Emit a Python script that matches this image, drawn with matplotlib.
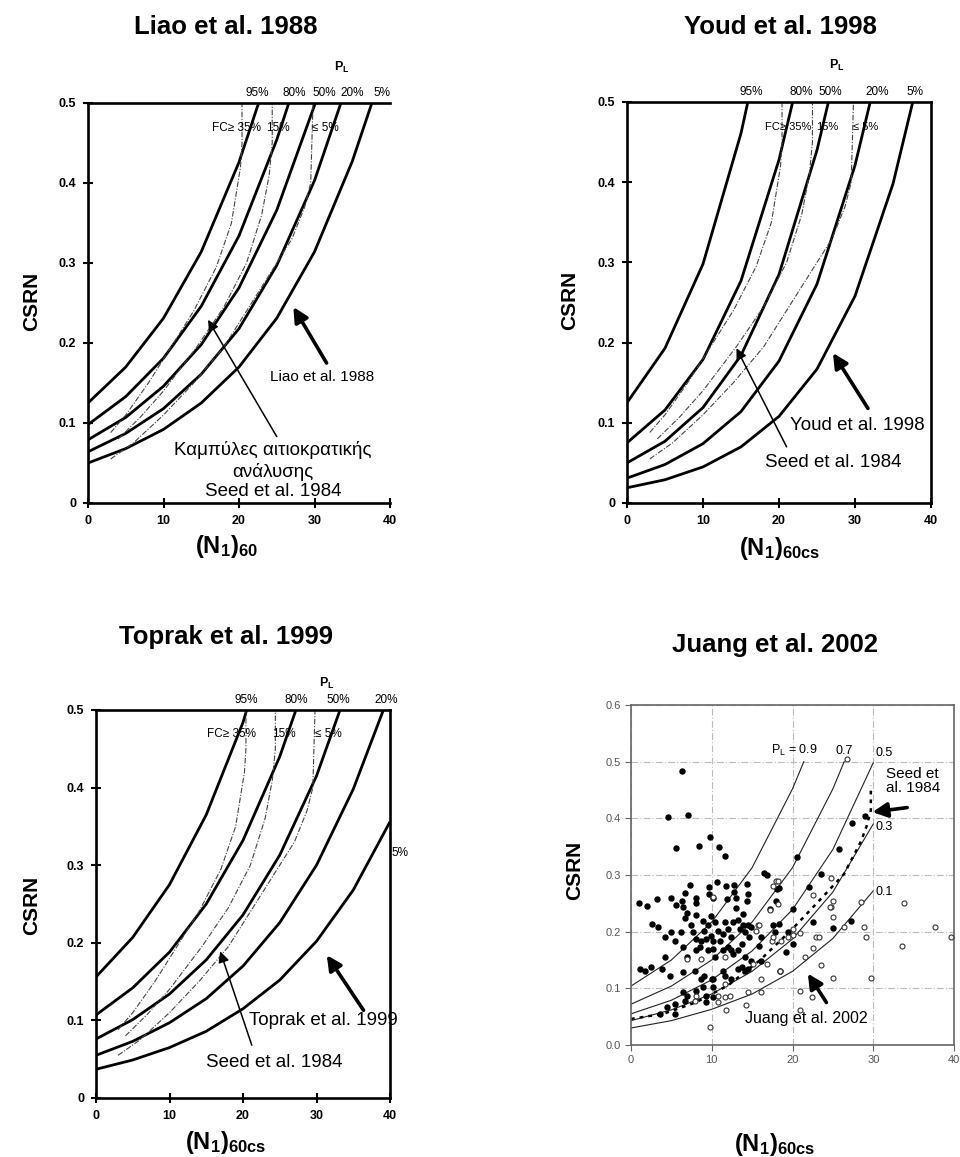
import matplotlib
matplotlib.use('Agg')
import matplotlib.pyplot as plt

plt.rcParams['font.family'] = ['Liberation Sans', 'DejaVu Sans']
plt.rcParams['mathtext.fontset'] = 'custom'
plt.rcParams['mathtext.bf'] = 'Liberation Sans:bold'
plt.rcParams['mathtext.rm'] = 'Liberation Sans'
plt.rcParams['mathtext.it'] = 'Liberation Sans:italic'

# ---- probability curves, (N1)60 vs CSRN, one list per P_L level ----
pl_labels = ['95%', '80%', '50%', '20%', '5%']

liao_n = [[0, 5, 10, 15, 20, 22.6],
          [0, 5, 10, 15, 20, 25, 26.6],
          [0, 5, 10, 15, 20, 25, 30, 30.1],
          [0, 5, 10, 15, 20, 25, 30, 33.5],
          [0, 5, 10, 15, 20, 25, 30, 35, 37.6]]
liao_csr = [[0.125, 0.170, 0.231, 0.314, 0.426, 0.500],
            [0.098, 0.133, 0.181, 0.246, 0.334, 0.454, 0.500],
            [0.079, 0.107, 0.146, 0.198, 0.269, 0.366, 0.497, 0.500],
            [0.064, 0.087, 0.118, 0.161, 0.218, 0.297, 0.403, 0.500],
            [0.050, 0.068, 0.092, 0.125, 0.170, 0.231, 0.314, 0.427, 0.500]]

youd_n = [[0, 5, 10, 15, 15.9],
          [0, 5, 10, 15, 20, 21.8],
          [0, 5, 10, 15, 20, 25, 26.5],
          [0, 5, 10, 15, 20, 25, 30, 32.0],
          [0, 5, 10, 15, 20, 25, 30, 35, 37.6]]
youd_csr = [[0.125, 0.193, 0.298, 0.461, 0.500],
            [0.075, 0.116, 0.179, 0.277, 0.428, 0.500],
            [0.050, 0.077, 0.119, 0.184, 0.285, 0.440, 0.500],
            [0.031, 0.048, 0.074, 0.114, 0.177, 0.273, 0.421, 0.500],
            [0.019, 0.029, 0.045, 0.070, 0.108, 0.167, 0.258, 0.398, 0.500]]

toprak_n = [[0, 5, 10, 15, 20, 20.5],
            [0, 5, 10, 15, 20, 25, 27.2],
            [0, 5, 10, 15, 20, 25, 30, 33.2],
            [0, 5, 10, 15, 20, 25, 30, 35, 39.1],
            [0, 5, 10, 15, 20, 25, 30, 35, 40]]
toprak_csr = [[0.156, 0.207, 0.275, 0.365, 0.484, 0.500],
              [0.107, 0.142, 0.188, 0.250, 0.332, 0.440, 0.500],
              [0.076, 0.101, 0.134, 0.178, 0.236, 0.313, 0.415, 0.500],
              [0.055, 0.073, 0.097, 0.128, 0.170, 0.226, 0.300, 0.398, 0.500],
              [0.037, 0.049, 0.065, 0.086, 0.115, 0.152, 0.202, 0.268, 0.356]]

# deterministic boundaries of Seed et al. 1984 (fines content)
seed_fc35_n = [3.0, 5.0, 8.0, 11.0, 14.0, 17.0, 19.0, 20.2, 20.4, 20.4]
seed_fc35_csr = [0.088, 0.110, 0.150, 0.195, 0.240, 0.295, 0.350, 0.420, 0.450, 0.500]
seed_fc15_n = [4.0, 7.0, 10.0, 14.4, 18.0, 21.0, 23.0, 24.0, 24.4, 24.4]
seed_fc15_csr = [0.080, 0.108, 0.140, 0.195, 0.245, 0.300, 0.360, 0.410, 0.450, 0.500]
seed_fc5_n = [3.0, 6.0, 10.0, 14.0, 18.0, 21.0, 24.0, 27.0, 28.7, 29.5, 29.8]
seed_fc5_csr = [0.055, 0.075, 0.110, 0.150, 0.195, 0.240, 0.285, 0.330, 0.370, 0.400, 0.500]

# ---- Juang et al. 2002 ----
juang_pl = ['0.9', '0.7', '0.5', '0.3', '0.1']
juang_n = [[0, 5, 10, 15, 20, 21.4],
           [0, 5, 10, 15, 20, 25, 26.4],
           [0, 5, 10, 15, 20, 25, 30],
           [0, 5, 10, 15, 20, 25, 30],
           [0, 5, 10, 15, 20, 25, 30]]
juang_csr = [[0.104, 0.150, 0.217, 0.313, 0.452, 0.500],
             [0.072, 0.104, 0.150, 0.217, 0.313, 0.452, 0.500],
             [0.055, 0.079, 0.115, 0.166, 0.239, 0.345, 0.498],
             [0.043, 0.062, 0.090, 0.130, 0.187, 0.270, 0.390],
             [0.030, 0.043, 0.063, 0.090, 0.130, 0.188, 0.272]]
seed_j_n = [0, 4, 8, 12, 16, 20, 23, 26.4, 28.5, 29.2, 29.7, 29.7]
seed_j_csr = [0.046, 0.055, 0.075, 0.105, 0.150, 0.205, 0.250, 0.302, 0.360, 0.387, 0.414, 0.458]

# case histories: liquefied (filled) and non-liquefied (open)
liq_n = [6.3, 4.6, 7.1, 9.8, 8.4, 5.6, 10.9, 11.6, 16.5, 16.8, 29.0, 27.4, 25.7, 20.5, 23.5, 22.0,
         1.0, 2.0, 3.2, 4.9, 5.6, 6.3, 6.5, 6.7, 7.3, 6.9, 8.0, 8.0, 8.0, 9.7, 10.7, 10.2, 9.9,
         11.8, 12.8, 12.8, 13.0, 13.0, 14.4, 14.4, 13.9, 17.2, 17.9, 18.1, 20.1, 9.7, 11.9, 14.5,
         2.6, 3.3, 4.2, 5.0, 6.2, 5.4, 6.7, 7.4, 7.7, 8.1, 8.7, 8.9, 9.1, 9.3, 9.5, 9.9, 10.1,
         10.4, 10.8, 11.0, 11.4, 11.6, 12.0, 12.4, 12.6, 13.2, 13.5, 13.9, 14.1, 14.5, 14.9, 14.6,
         16.1, 15.9, 17.6, 18.3, 17.8, 19.4, 18.3,
         6.5, 6.9, 8.1, 8.5, 9.5, 10.2, 10.4, 11.4, 12.0, 12.4, 12.6, 13.2, 13.7, 14.1, 14.9, 4.2,
         1.1, 1.7, 2.5, 3.8, 4.8, 6.5, 7.9, 9.1, 10.2, 11.4, 11.6, 13.2, 13.7, 14.1, 14.5, 16.1, 18.4,
         8.7, 10.0, 10.2, 12.4, 6.5, 6.9, 8.1, 8.9, 9.3, 10.2, 6.7, 5.4, 9.3, 5.4, 4.4, 3.6,
         22.6, 25.0, 27.2, 20.0, 19.2]
liq_csr = [0.484, 0.403, 0.406, 0.367, 0.352, 0.347, 0.349, 0.334, 0.304, 0.300, 0.404, 0.391, 0.346, 0.331, 0.302, 0.278,
           0.251, 0.245, 0.258, 0.259, 0.247, 0.254, 0.243, 0.268, 0.283, 0.233, 0.259, 0.250, 0.230, 0.279, 0.287, 0.260, 0.227,
           0.281, 0.283, 0.270, 0.259, 0.242, 0.285, 0.254, 0.232, 0.240, 0.255, 0.276, 0.240, 0.266, 0.257, 0.267,
           0.214, 0.208, 0.190, 0.199, 0.199, 0.184, 0.225, 0.211, 0.199, 0.187, 0.184, 0.219, 0.202, 0.187, 0.211, 0.193, 0.184,
           0.217, 0.202, 0.184, 0.196, 0.217, 0.205, 0.190, 0.217, 0.220, 0.205, 0.211, 0.199, 0.211, 0.208, 0.190,
           0.190, 0.175, 0.211, 0.214, 0.199, 0.199, 0.277,
           0.173, 0.155, 0.167, 0.173, 0.167, 0.170, 0.155, 0.167, 0.173, 0.167, 0.161, 0.167, 0.178, 0.155, 0.149, 0.155,
           0.135, 0.131, 0.138, 0.135, 0.122, 0.128, 0.131, 0.122, 0.117, 0.131, 0.122, 0.134, 0.137, 0.131, 0.134, 0.149, 0.131,
           0.117, 0.117, 0.102, 0.117, 0.093, 0.087, 0.096, 0.102, 0.087, 0.084, 0.078, 0.073, 0.076, 0.055, 0.067, 0.055,
           0.217, 0.207, 0.218, 0.178, 0.164]
nonliq_n = [26.8, 24.8, 17.9, 17.6, 18.2, 25.0, 22.5, 24.8, 25.0, 28.5, 33.8, 17.2, 18.2, 10.2,
            15.5, 15.7, 17.4, 18.6, 19.5, 20.0, 6.9, 8.7, 11.6, 15.1, 16.9,
            11.6, 8.0, 10.8, 11.6, 12.2, 14.5, 16.1, 16.1, 7.9, 10.8, 14.3, 11.8, 9.8,
            26.4, 28.8, 29.1, 33.6, 37.6, 39.6, 20.9, 20.0, 22.9, 23.3, 22.6, 21.6, 23.5, 25.0, 29.7,
            20.9, 22.4, 20.9, 24.6, 17.6, 18.4, 15.9]
nonliq_csr = [0.505, 0.295, 0.289, 0.280, 0.290, 0.255, 0.264, 0.243, 0.226, 0.252, 0.250, 0.239, 0.249, 0.262,
              0.202, 0.211, 0.184, 0.184, 0.190, 0.205, 0.152, 0.152, 0.155, 0.143, 0.143,
              0.108, 0.086, 0.087, 0.084, 0.087, 0.093, 0.117, 0.093, 0.078, 0.076, 0.070, 0.061, 0.031,
              0.209, 0.209, 0.190, 0.175, 0.209, 0.191, 0.197, 0.194, 0.191, 0.191, 0.172, 0.156, 0.141, 0.118, 0.118,
              0.096, 0.084, 0.061, 0.243, 0.190, 0.131, 0.211]

W, H = 960, 1157
fig = plt.figure(figsize=(W / 100, H / 100), dpi=100)


def rect(l, t, r, b):
    return [l / W, 1 - b / H, (r - l) / W, (b - t) / H]


def ftext(x, y, s, **kw):
    fig.text(x / W, 1 - y / H, s, **kw)


def prob_panel(box, n_sets, csr_sets, right_spine=True):
    ax = fig.add_axes(rect(*box))
    for n, c in zip(n_sets, csr_sets):
        ax.plot(n, c, color='k', lw=2.0, solid_capstyle='butt')
    for n, c in [(seed_fc35_n, seed_fc35_csr), (seed_fc15_n, seed_fc15_csr),
                 (seed_fc5_n, seed_fc5_csr)]:
        ax.plot(n, c, color='#444444', lw=0.8, ls=(0, (5, 1.5, 1, 1.5)))
    ax.set_xlim(0, 40)
    ax.set_ylim(0, 0.5)
    ax.set_xticks([0, 10, 20, 30, 40])
    ax.set_yticks([0, 0.1, 0.2, 0.3, 0.4, 0.5])
    ax.set_yticklabels(['0', '0.1', '0.2', '0.3', '0.4', '0.5'])
    for s in ['left', 'bottom', 'top', 'right']:
        ax.spines[s].set_linewidth(1.9)
    ax.spines['right'].set_visible(right_spine)
    ax.tick_params(direction='inout', length=7, width=1.5, labelsize=9, pad=5)
    for lab in ax.get_xticklabels() + ax.get_yticklabels():
        lab.set_fontweight('bold')
    return ax


def top_labels(ax, pl_x, fc_x, pl_head, fc_size=8.5):
    for x, s in zip(pl_x, pl_labels):
        if x is not None:
            ax.text(x, 0.513, s, fontsize=8.5, ha='center', va='center', clip_on=False)
    for x, s in zip(fc_x, ['FC\u2265 35%', '15%', '\u2264 5%']):
        ax.text(x, 0.469, s, fontsize=fc_size, ha='center', va='center')
    ax.text(pl_head[0], pl_head[1], r'$\mathbf{P_L}$', fontsize=9, ha='center',
            va='center', clip_on=False)


def arrow(ax, tip, tail, thick=True):
    if thick:
        props = dict(arrowstyle='-|>', lw=2.6, color='k', mutation_scale=22,
                     shrinkA=0, shrinkB=0)
    else:
        props = dict(arrowstyle='-|>', lw=1.1, color='k', mutation_scale=16,
                     shrinkA=0, shrinkB=0)
    ax.annotate('', xy=tip, xytext=tail, arrowprops=props, annotation_clip=False)


title_kw = dict(fontsize=18.5, fontweight='bold', ha='center', va='center')
ylab_kw = dict(fontsize=15, fontweight='bold', rotation=90, ha='center', va='center')

# Liao et al. 1988
ax1 = prob_panel((88, 103, 390, 503), liao_n, liao_csr, right_spine=False)
top_labels(ax1, [22.4, 27.3, 31.3, 35.0, 38.9], [19.7, 25.1, 31.5], (33.6, 0.545))
arrow(ax1, (27.2, 0.245), (31.6, 0.175))
arrow(ax1, (15.9, 0.229), (25.0, 0.083), thick=False)
ax1.text(31.0, 0.158, 'Liao et al. 1988', fontsize=11, ha='center', va='center')
for y, s in zip([0.066, 0.039, 0.014],
                ['Καμπύλες αιτιοκρατικής', 'ανάλυσης', 'Seed et al. 1984']):
    ax1.text(24.5, y, s, fontsize=13.5, ha='center', va='center')
ftext(226, 27, 'Liao et al. 1988', **title_kw)
ftext(32, 301, 'CSRN', **ylab_kw)
ftext(226, 547, r'$\mathbf{(N_1)_{60}}$', fontsize=17, ha='center', va='center')

# Youd et al. 1998
ax2 = prob_panel((627, 102, 931, 503), youd_n, youd_csr)
top_labels(ax2, [16.4, 22.9, 26.8, 32.9, 37.9], [21.2, 26.4, 31.4], (27.6, 0.546),
           fc_size=8)
arrow(ax2, (27.1, 0.187), (31.7, 0.118))
arrow(ax2, (14.4, 0.193), (21.0, 0.070), thick=False)
ax2.text(30.3, 0.097, 'Youd et al. 1998', fontsize=13.5, ha='center', va='center')
ax2.text(27.1, 0.050, 'Seed et al. 1984', fontsize=13.5, ha='center', va='center')
ftext(780, 27, 'Youd et al. 1998', **title_kw)
ftext(570, 300, 'CSRN', **ylab_kw)
ftext(780, 549, r'$\mathbf{(N_1)_{60cs}}$', fontsize=17, ha='center', va='center')

# Toprak et al. 1999
ax3 = prob_panel((96, 710, 390, 1098), toprak_n, toprak_csr)
top_labels(ax3, [20.4, 27.3, 33.0, 39.5, None], [18.5, 25.6, 31.6], (31.4, 0.534))
ax3.text(41.4, 0.316, '5%', fontsize=8.5, ha='center', va='center', clip_on=False)
arrow(ax3, (31.4, 0.184), (36.4, 0.113))
arrow(ax3, (16.9, 0.189), (21.2, 0.068), thick=False)
ax3.text(31.0, 0.100, 'Toprak et al. 1999', fontsize=13.5, ha='center', va='center')
ax3.text(24.2, 0.046, 'Seed et al. 1984', fontsize=13.5, ha='center', va='center')
ftext(226, 637, 'Toprak et al. 1999', **title_kw)
ftext(32, 905, 'CSRN', **ylab_kw)
ftext(226, 1143, r'$\mathbf{(N_1)_{60cs}}$', fontsize=17, ha='center', va='center')

# Juang et al. 2002
ax4 = fig.add_axes(rect(631, 705, 954, 1045))
ax4.set_xlim(0, 40)
ax4.set_ylim(0, 0.6)
ax4.set_xticks([0, 10, 20, 30, 40])
ax4.set_yticks([0, 0.1, 0.2, 0.3, 0.4, 0.5, 0.6])
ax4.set_yticklabels(['0.0', '0.1', '0.2', '0.3', '0.4', '0.5', '0.6'])
ax4.grid(True, color='#bbbbbb', lw=0.8, ls=(0, (6, 2, 1, 2)))
for s in ax4.spines.values():
    s.set_color('#666666')
    s.set_linewidth(1.2)
ax4.tick_params(colors='#666666', labelcolor='#555555', labelsize=8, length=4, width=0.8)
for n, c in zip(juang_n, juang_csr):
    ax4.plot(n, c, color='#222222', lw=0.8)
ax4.plot(seed_j_n, seed_j_csr, color='k', lw=1.8, ls=(0, (1.5, 2)))
ax4.scatter(liq_n, liq_csr, s=13, color='k', zorder=3)
ax4.scatter(nonliq_n, nonliq_csr, s=13, facecolor='white', edgecolor='#333333',
            linewidth=0.8, zorder=3)
ax4.text(23.1, 0.519, r'P$_\mathrm{L}$ = 0.9', fontsize=9, ha='right', va='center')
ax4.text(26.4, 0.519, '0.7', fontsize=9, ha='center', va='center')
ax4.text(31.4, 0.516, '0.5', fontsize=9, ha='center', va='center')
ax4.text(31.4, 0.384, '0.3', fontsize=9, ha='center', va='center')
ax4.text(31.4, 0.270, '0.1', fontsize=9, ha='center', va='center')
ax4.text(31.6, 0.491, 'Seed et\nal. 1984', fontsize=11, ha='left', va='top', linespacing=1.0)
arrow(ax4, (29.9, 0.411), (34.2, 0.419))
arrow(ax4, (21.9, 0.126), (24.2, 0.075))
ax4.text(21.7, 0.047, 'Juang et al. 2002', fontsize=11.5, ha='center', va='center')
ftext(775, 645, 'Juang et al. 2002', **title_kw)
ftext(575, 870, 'CSRN', **ylab_kw)
ftext(775, 1145, r'$\mathbf{(N_1)_{60cs}}$', fontsize=17, ha='center', va='center')

fig.savefig('out.png', dpi=100)
